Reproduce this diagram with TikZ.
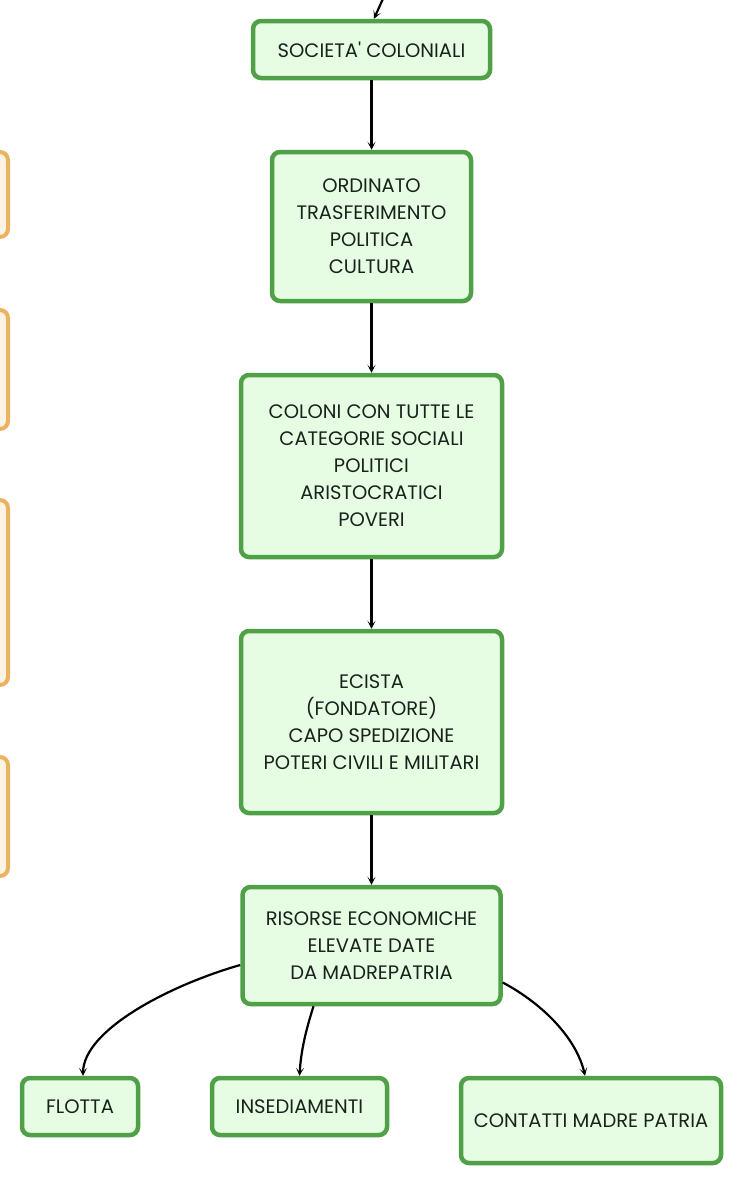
\documentclass[tikz,border=0pt]{standalone}
\usepackage{fontspec}
\setmainfont{Poppins}[Ligatures=TeXOff]
\usetikzlibrary{arrows.meta}
\definecolor{gstroke}{RGB}{80,160,72}
\definecolor{gfill}{RGB}{230,252,227}
\definecolor{ostroke}{RGB}{235,178,95}
\definecolor{ofill}{RGB}{253,243,228}
\definecolor{txt}{RGB}{25,35,28}
\tikzset{
  gbox/.style={draw=gstroke, fill=gfill, line width=4.5pt, rounded corners=8pt,
    align=center, text=txt, inner sep=0pt,
    font=\fontsize{19.5}{27}\selectfont},
  obox/.style={draw=ostroke, fill=ofill, line width=4pt, rounded corners=8pt, inner sep=0pt},
  conn/.style={draw=black, line width=2.2pt, -{Stealth[length=8pt,width=8pt,inset=4.5pt]}},
}
\begin{document}
\begin{tikzpicture}[x=1pt,y=-1pt]
\useasboundingbox (0,0) rectangle (743,1186);
% left orange boxes (cut off)
\node[obox, minimum width=120pt, minimum height=85pt] (o1) at (-52,194.5) {};
\node[obox, minimum width=120pt, minimum height=119pt] (o2) at (-52,369.5) {};
\node[obox, minimum width=120pt, minimum height=185pt] (o3) at (-52,592.5) {};
\node[obox, minimum width=120pt, minimum height=119pt] (o4) at (-52,816.5) {};
% main column
\node[gbox, minimum width=237pt, minimum height=57pt] (soc) at (371.5,49.5) {SOCIETA' COLONIALI};
\node[gbox, minimum width=199pt, minimum height=149pt] (ord) at (371.5,226.5) {ORDINATO\\TRASFERIMENTO\\POLITICA\\CULTURA};
\node[gbox, minimum width=261pt, minimum height=182pt] (col) at (371.5,466) {COLONI CON TUTTE LE\\CATEGORIE SOCIALI\\POLITICI\\ARISTOCRATICI\\POVERI};
\node[gbox, minimum width=261pt, minimum height=182pt] (eci) at (371.5,722) {ECISTA\\(FONDATORE)\\CAPO SPEDIZIONE\\POTERI CIVILI E MILITARI};
\node[gbox, minimum width=258pt, minimum height=117pt] (ris) at (371.5,945.5) {RISORSE ECONOMICHE\\ELEVATE DATE\\DA MADREPATRIA};
\node[gbox, minimum width=116pt, minimum height=57pt] (flo) at (80,1106.5) {FLOTTA};
\node[gbox, minimum width=175pt, minimum height=57pt] (ins) at (299.5,1106.5) {INSEDIAMENTI};
\node[gbox, minimum width=260pt, minimum height=85pt] (con) at (591,1120.5) {CONTATTI MADRE PATRIA};
% connectors
\coordinate (top) at (386,-8);
\draw[conn] (top) -- ([xshift=2.5pt]soc.north);
\draw[conn] (soc) -- (ord);
\draw[conn] (ord) -- (col);
\draw[conn] (col) -- (eci);
\draw[conn] (eci) -- (ris);
\draw[conn] ([yshift=-19.5pt]ris.west) .. controls (170,985) and (83,1030) .. ([xshift=3pt]flo.north);
\draw[conn] ([xshift=-58pt]ris.south) .. controls (306,1030) and (301,1050) .. (ins.north);
\draw[conn] ([yshift=-37pt]ris.east) .. controls (545,1005) and (577,1040) .. ([xshift=-6pt]con.north);
\end{tikzpicture}
\end{document}
